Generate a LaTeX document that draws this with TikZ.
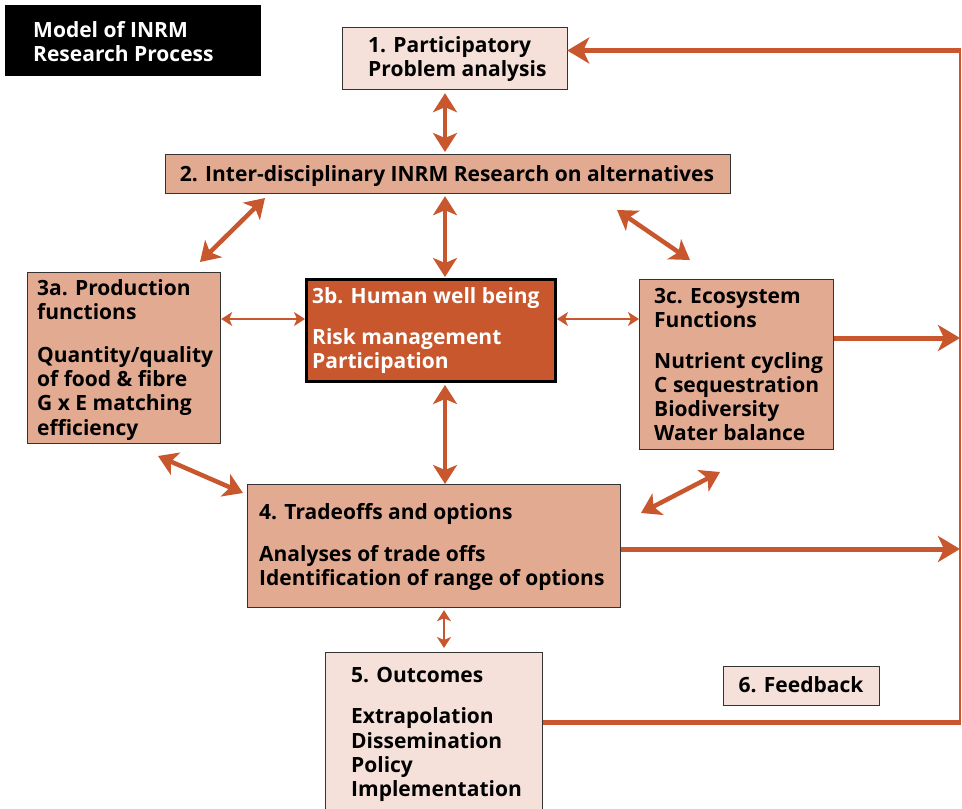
\documentclass[tikz,border=0pt]{standalone}
\usepackage{fontspec}
\setmainfont{Open Sans}
\usetikzlibrary{arrows.meta}
\definecolor{rust}{HTML}{C8572D}
\definecolor{midfill}{HTML}{E3AA92}
\definecolor{lightfill}{HTML}{F5E1D9}
\definecolor{boxline}{HTML}{333333}
\newcommand{\diafont}{\fontsize{21}{24.3}\selectfont\bfseries}
\tikzset{
  boxmid/.style={draw=boxline, line width=1.2pt, fill=midfill, inner sep=0pt, anchor=north west},
  boxlight/.style={draw=boxline, line width=1.2pt, fill=lightfill, inner sep=0pt, anchor=north west},
  boxdark/.style={draw=black, line width=3pt, fill=rust, inner sep=0pt, anchor=north west},
  txt/.style={inner sep=0pt, align=left, anchor=north west, font=\diafont},
  bigarrow/.style={draw=rust, line width=4.5pt, {Stealth[length=19pt,width=24pt,inset=5pt]}-{Stealth[length=19pt,width=24pt,inset=5pt]}},
  thinarrow/.style={draw=rust, line width=1.6pt, {Stealth[length=11pt,width=14pt,inset=3pt]}-{Stealth[length=11pt,width=14pt,inset=3pt]}},
  oneway/.style={draw=rust, line width=5pt, -{Stealth[length=22pt,width=26pt,inset=6pt]}},
  fbline/.style={draw=rust, line width=5pt},
}
\begin{document}
\begin{tikzpicture}[x=1pt,y=-1pt]
\useasboundingbox (0,0) rectangle (962,809);
% title
\node[fill=black, minimum width=256pt, minimum height=71pt, inner sep=0pt, anchor=north west] (title) at (5,5) {};
\node[txt, text=white] (titletext) at (33,21) {Model of INRM\\Research Process};
% boxes
\node[boxlight, minimum width=225pt, minimum height=62pt] (b1) at (342,27) {};
\node[txt] (t1) at (368,36) {1. Participatory\\Problem analysis};
\node[boxmid, minimum width=565pt, minimum height=39pt] (b2) at (165,154) {};
\node[inner sep=0pt, anchor=base, font=\diafont] (t2) at (447,181) {2. Inter-disciplinary INRM Research on alternatives};
\node[boxmid, minimum width=193pt, minimum height=171pt] (b3a) at (27,272) {};
\node[txt] (t3a) at (37,279) {3a. Production\\functions\\[18.5pt]Quantity/quality\\of food \& fibre\\G x E matching\\efficiency};
\node[boxdark, minimum width=249pt, minimum height=102pt] (b3b) at (305,278) {};
\node[txt, text=white] (t3b) at (312,287) {3b. Human well being\\[17pt]Risk management\\Participation};
\node[boxmid, minimum width=194pt, minimum height=170pt] (b3c) at (639,279) {};
\node[txt] (t3c) at (654,288) {3c. Ecosystem\\Functions\\[16pt]Nutrient cycling\\C sequestration\\Biodiversity\\Water balance};
\node[boxmid, minimum width=373pt, minimum height=123pt] (b4) at (247,484) {};
\node[txt] (t4) at (259,503) {4. Tradeoffs and options\\[17.5pt]Analyses of trade offs\\Identification of range of options};
\node[boxlight, minimum width=217pt, minimum height=170pt] (b5) at (325,652) {};
\node[txt] (t5) at (351,667) {5. Outcomes\\[17pt]Extrapolation\\Dissemination\\Policy\\Implementation};
\node[boxlight, minimum width=156pt, minimum height=39pt] (b6) at (723,666) {};
\node[inner sep=0pt, anchor=base, font=\diafont] (t6) at (801,692) {6. Feedback};
% coordinates
\coordinate (fbTR) at (960,50.5);
\coordinate (fbBR) at (960,722);
\coordinate (fbR3c) at (960,338);
\coordinate (fbR4) at (960,549);
\coordinate (d1a) at (265,198);
\coordinate (d1b) at (200,262);
\coordinate (d2a) at (617,210);
\coordinate (d2b) at (690,260);
\coordinate (d3a) at (158,456);
\coordinate (d3b) at (243,493);
\coordinate (d4a) at (720,472);
\coordinate (d4b) at (641,513);
% vertical arrows
\draw[bigarrow] ([yshift=-3pt]b1.south -| 445,0) -- ([yshift=2pt]b2.north -| 445,0);
\draw[bigarrow] ([yshift=-2pt]b2.south -| 445,0) -- ([yshift=1pt]b3b.north -| 445,0);
\draw[bigarrow] ([yshift=-2pt]b3b.south -| 445,0) -- (b4.north -| 445,0);
\draw[thinarrow] ([yshift=-2pt]b4.south -| 444,0) -- ([yshift=4pt]b5.north -| 444,0);
% horizontal thin arrows
\draw[thinarrow] ([yshift=-47pt]b3a.north east) -- ([yshift=-41pt]b3b.north west);
\draw[thinarrow] ([yshift=-41pt]b3b.north east) -- ([yshift=-40pt]b3c.north west);
% diagonal arrows
\draw[bigarrow] (d1a) -- (d1b);
\draw[bigarrow] (d2a) -- (d2b);
\draw[bigarrow] (d3a) -- (d3b);
\draw[bigarrow] (d4a) -- (d4b);
% feedback loop
\draw[draw=rust, line width=2.5pt] ([yshift=2pt]fbTR) -- ([yshift=-2pt]fbBR);
\draw[oneway] ([xshift=1.2pt]fbTR) -- ([xshift=-1pt]b1.east |- fbTR);
\draw[fbline] (b5.east |- fbBR) -- ([xshift=1.2pt]fbBR);
\draw[oneway] (b3c.east |- fbR3c) -- (fbR3c);
\draw[oneway] (b4.east |- fbR4) -- (fbR4);
\end{tikzpicture}
\end{document}
